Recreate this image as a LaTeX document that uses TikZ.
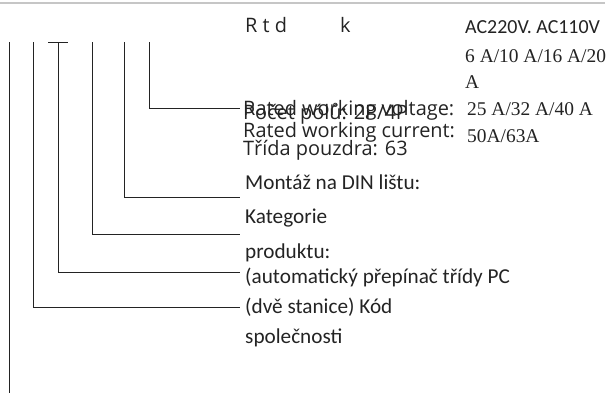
\documentclass[tikz,border=0pt]{standalone}
\usepackage{fontspec}
\setmainfont{Liberation Serif}
\newfontfamily\calfont{Carlito}
\newfontfamily\opfont{Open Sans}
\usepackage{tikz}
\definecolor{txtgray}{RGB}{35,35,35}
\tikzset{
  lead/.style={line width=0.8pt, txtgray},
  lbl/.style={anchor=base west, inner sep=0pt, txtgray, font=\calfont\fontsize{21.3}{24}\selectfont},
  lblop/.style={anchor=base west, inner sep=0pt, txtgray, font=\opfont\fontsize{20}{22}\selectfont},
  val/.style={anchor=base west, inner sep=0pt, txtgray, font=\fontsize{19.5}{22}\selectfont}
}
\begin{document}
\begin{tikzpicture}[x=1bp,y=-1bp]
	\useasboundingbox (0,0) rectangle (612,396);
	\draw[gray!45, line width=1.4pt] (0,3) -- (605,3);

	% stubs along the top
	\coordinate (s1) at (9,42);
	\coordinate (s2) at (33,42);
	\coordinate (s3) at (58,42);
	\coordinate (s4) at (92,42);
	\coordinate (s5) at (124,42);
	\coordinate (s6) at (149,42);
	\draw[lead] (48,42) -- (68,42);

	% ends of the lead lines
	\coordinate (e6) at (240,108);
	\coordinate (e5) at (240,197);
	\coordinate (e4) at (240,234);
	\coordinate (e3) at (240,272);
	\coordinate (e2) at (240,307);
	\coordinate (e1) at (9,393);

	\draw[lead] (s6) |- (e6);
	\draw[lead] (s5) |- (e5);
	\draw[lead] (s4) |- (e4);
	\draw[lead] (s3) |- (e3);
	\draw[lead] (s2) |- (e2);
	\draw[lead] (s1) -- (e1);

	% labels
	\node[lblop] (head) at (245,32) {R t d\hspace{53bp}k};
	\node[lbl, font=\calfont\fontsize{20}{22}\selectfont] (acv) at (465,33) {AC220V. AC110V};
	\node[val] (cur1) at (465,62) {6 A/10 A/16 A/20};
	\node[val] (cur2) at (465,88) {A};
	\node[val] (cur3) at (467,115) {25 A/32 A/40 A};
	\node[val] (cur4) at (467,142) {50A/63A};

	\node[lblop] (volt) at (243,115) {Rated working voltage:};
	\node[lblop] (poles) at (243,119) {Počet pólů: 2P/4P};
	\node[lblop] (curr) at (243,137) {Rated working current:};
	\node[lblop] (frame) at (243,155) {Třída pouzdra: 63};

	\node[lbl] (din) at (245,189) {Montáž na DIN lištu:};
	\node[lbl] (cat) at (245,223) {Kategorie};
	\node[lbl] (prod) at (245,258) {produktu:};
	\node[lbl] (auto) at (245,283) {(automatický přepínač třídy PC};
	\node[lbl] (two) at (245,313) {(dvě stanice) Kód};
	\node[lbl] (comp) at (245,343) {společnosti};
\end{tikzpicture}
\end{document}
